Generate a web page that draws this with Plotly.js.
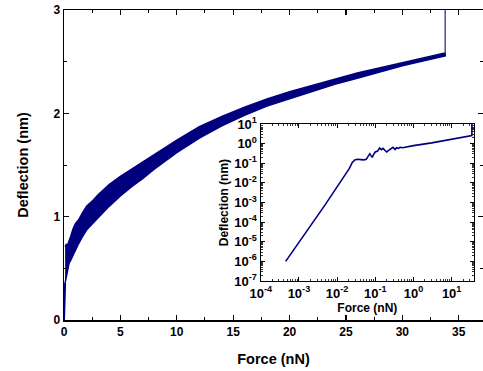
<!DOCTYPE html>
<html>
<head>
<meta charset="utf-8">
<script src="https://cdn.plot.ly/plotly-3.0.1.min.js"></script>
<style>
  html, body { margin: 0; padding: 0; background: #ffffff; }
  #chart { width: 483px; height: 371px; }
</style>
</head>
<body>
<div id="chart"></div>
<script>
// ---- main plot: noisy force–deflection band ----
const bandForce = [0.1, 0.2, 0.3, 0.45, 0.6, 0.8, 1.0, 1.3, 1.6, 2.0, 2.5, 3.0, 3.5, 4.0, 5.0, 6.0, 7.0, 8.0, 9.0, 10.0, 12.0, 14.0, 16.0, 18.0, 20.0, 22.0, 24.0, 26.0, 28.0, 30.0, 32.0, 33.8];
const bandLower = [0.36, 0.42, 0.50, 0.55, 0.58, 0.63, 0.68, 0.74, 0.80, 0.87, 0.93, 0.99, 1.05, 1.10, 1.20, 1.29, 1.37, 1.46, 1.54, 1.62, 1.76, 1.88, 1.98, 2.07, 2.14, 2.21, 2.28, 2.34, 2.40, 2.46, 2.51, 2.555];
const bandUpper = [0.71, 0.73, 0.72, 0.77, 0.81, 0.88, 0.93, 0.97, 1.03, 1.10, 1.15, 1.21, 1.26, 1.31, 1.39, 1.46, 1.53, 1.60, 1.67, 1.74, 1.87, 1.97, 2.06, 2.14, 2.21, 2.27, 2.33, 2.39, 2.44, 2.49, 2.54, 2.585];
const startForce = [0.0, 0.04, 0.1];
const startDefl = [0.0, 0.15, 0.36];
const jumpForce = [33.8, 33.8];
const jumpDefl = [2.58, 3.0];

// ---- inset: log-log curve ----
const insetForce = [0.00045, 0.0048, 0.021, 0.025, 0.029, 0.034, 0.042, 0.05, 0.058, 0.064, 0.072, 0.078, 0.083, 0.092, 0.1, 0.115, 0.13, 0.145, 0.16, 0.18, 0.2, 0.22, 0.25, 0.29, 0.33, 0.36, 0.4, 0.45, 0.52, 1.0, 3.0, 10.0, 33.8, 33.8];
const insetDefl = [1.0e-6, 7.4e-4, 0.055, 0.11, 0.15, 0.16, 0.155, 0.15, 0.16, 0.21, 0.31, 0.24, 0.2, 0.3, 0.38, 0.42, 0.6, 0.5, 0.58, 0.45, 0.38, 0.44, 0.52, 0.65, 0.5, 0.62, 0.58, 0.66, 0.62, 0.8, 1.1, 1.7, 2.58, 10.0];
const insetTickVals = [1e-4, 1e-3, 1e-2, 1e-1, 1, 10];
const insetTickText = ["10<sup>-4</sup>", "10<sup>-3</sup>", "10<sup>-2</sup>", "10<sup>-1</sup>", "10<sup>0</sup>", "10<sup>1</sup>"];
const insetYTickVals = [1e-7, 1e-6, 1e-5, 1e-4, 1e-3, 1e-2, 1e-1, 1, 10];
const insetYTickText = ["10<sup>-7</sup>", "10<sup>-6</sup>", "10<sup>-5</sup>", "10<sup>-4</sup>", "10<sup>-3</sup>", "10<sup>-2</sup>", "10<sup>-1</sup>", "10<sup>0</sup>", "10<sup>1</sup>"];

const NAVY = '#00007f';
const FONT = 'Liberation Sans, Arial, sans-serif';

const polyX = bandForce.concat(bandForce.slice().reverse());
const polyY = bandLower.concat(bandUpper.slice().reverse());

const traces = [
  { x: polyX, y: polyY, type: 'scatter', mode: 'lines', fill: 'toself',
    fillcolor: NAVY, line: { color: NAVY, width: 1.5 }, hoverinfo: 'skip', xaxis: 'x', yaxis: 'y' },
  { x: startForce, y: startDefl, type: 'scatter', mode: 'lines',
    line: { color: NAVY, width: 2 }, xaxis: 'x', yaxis: 'y' },
  { x: jumpForce, y: jumpDefl, type: 'scatter', mode: 'lines',
    line: { color: '#4b4bab', width: 1.5 }, xaxis: 'x', yaxis: 'y' },
  { x: insetForce, y: insetDefl, type: 'scatter', mode: 'lines',
    line: { color: NAVY, width: 1.6 }, xaxis: 'x2', yaxis: 'y2' }
];

const tickFont = { family: FONT, size: 12, color: '#000', weight: 700 };
const insetTickFont = { family: FONT, size: 13, color: '#000', weight: 700 };

const layout = {
  width: 483, height: 371,
  margin: { l: 64, r: 0, t: 10, b: 51 },
  paper_bgcolor: '#ffffff', plot_bgcolor: 'rgba(0,0,0,0)',
  showlegend: false,
  xaxis: {
    domain: [0, 1], range: [0, 37.15], showgrid: false, zeroline: false,
    showline: true, linecolor: '#000', linewidth: 1.5, mirror: 'allticks',
    ticks: 'inside', ticklen: 5, tickwidth: 1.2, tickcolor: '#000',
    dtick: 5, tick0: 0, tickfont: tickFont,
    minor: { dtick: 2.5, ticks: 'inside', ticklen: 3, tickcolor: '#000', tickwidth: 1 },
    title: { text: 'Force (nN)', font: { family: FONT, size: 14.5, color: '#000', weight: 700 }, standoff: 16 }
  },
  yaxis: {
    domain: [0, 1], range: [0, 3], showgrid: false, zeroline: false,
    showline: true, linecolor: '#000', linewidth: 1.5, mirror: 'allticks',
    ticks: 'inside', ticklen: 5, tickwidth: 1.2, tickcolor: '#000',
    dtick: 1, tick0: 0, tickfont: tickFont,
    minor: { dtick: 0.5, ticks: 'inside', ticklen: 3, tickcolor: '#000', tickwidth: 1 },
    title: { text: 'Deflection (nm)', font: { family: FONT, size: 14.5, color: '#000', weight: 700 }, standoff: 21 }
  },
  xaxis2: {
    domain: [0.4695, 0.9785], anchor: 'y2', type: 'log', range: [-4, 1.585],
    showgrid: false, zeroline: false, showline: true, linecolor: '#000', linewidth: 1.2,
    mirror: 'allticks', ticks: 'inside', ticklen: 4, tickwidth: 1, tickcolor: '#000',
    tickvals: insetTickVals, ticktext: insetTickText, tickfont: insetTickFont,
    minor: { dtick: 'D1', ticks: 'inside', ticklen: 2, tickcolor: '#000', tickwidth: 0.8 },
    title: { text: 'Force (nN)', font: { family: FONT, size: 12, color: '#000', weight: 700 }, standoff: 3 }
  },
  yaxis2: {
    domain: [0.1258, 0.632], anchor: 'x2', type: 'log', range: [-7, 1],
    showgrid: false, zeroline: false, showline: true, linecolor: '#000', linewidth: 1.2,
    mirror: 'allticks', ticks: 'inside', ticklen: 4, tickwidth: 1, tickcolor: '#000',
    tickvals: insetYTickVals, ticktext: insetYTickText, tickfont: insetTickFont,
    minor: { dtick: 'D1', ticks: 'inside', ticklen: 2, tickcolor: '#000', tickwidth: 0.8 },
    title: { text: 'Deflection (nm)', font: { family: FONT, size: 12, color: '#000', weight: 700 }, standoff: 3 }
  }
};

Plotly.newPlot('chart', traces, layout, { staticPlot: true, displayModeBar: false });
</script>
</body>
</html>
